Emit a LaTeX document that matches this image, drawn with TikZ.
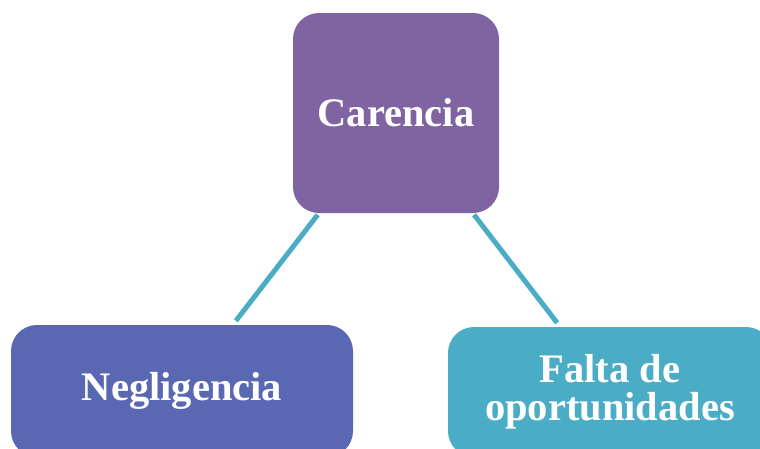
\documentclass[tikz,border=0pt]{standalone}
\usepackage{fontspec}
\setmainfont{Liberation Serif}
\definecolor{cpurple}{HTML}{8064A2}
\definecolor{cblue}{HTML}{5A67B3}
\definecolor{cteal}{HTML}{4BACC6}
\begin{document}
\begin{tikzpicture}[x=1pt,y=-1pt,
  box/.style={rectangle, rounded corners=26pt, inner sep=0pt, text=white,
    font=\fontsize{40.5}{38}\selectfont\bfseries, align=center},
  link/.style={draw=cteal, line width=5pt, shorten <=2pt, shorten >=5pt}]
\useasboundingbox (0,0) rectangle (760,448);
\clip (0,0) rectangle (760,448);
\node[box, fill=cpurple, minimum width=206pt, minimum height=200pt] (top) at (396,113) {Carencia};
\node[box, fill=cblue, minimum width=342pt, minimum height=132pt] (left) at (182,391) {Negligencia};
\node[box, fill=cteal, minimum width=324pt, minimum height=130pt] (right) at (610,392) {Falta de\\oportunidades};
\draw[link] (top) -- (left);
\draw[link] (top) -- (right);
\end{tikzpicture}
\end{document}
